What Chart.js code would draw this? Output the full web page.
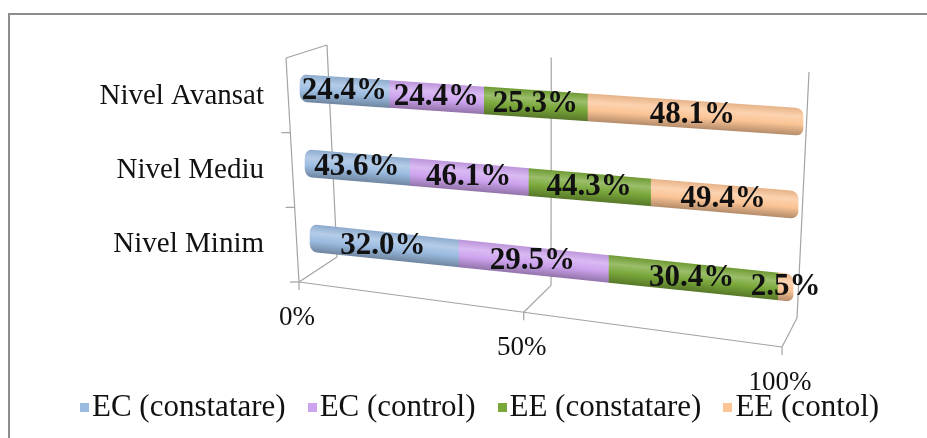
<!DOCTYPE html>
<html>
<head>
<meta charset="utf-8">
<script src="https://cdn.jsdelivr.net/npm/chart.js@4.4.1/dist/chart.umd.min.js"></script>
<style>
  html, body { margin: 0; padding: 0; background: #fff; width: 927px; height: 438px; overflow: hidden; }
  #frame { position: absolute; left: 8px; top: 13px; width: 960px; height: 460px; border-top: 2px solid #8c8c8c; border-left: 2px solid #8c8c8c; }
  #chart { position: absolute; left: 0; top: 0; }
  #legend { position: absolute; left: 80px; top: 391px; display: flex; gap: 22px; align-items: center;
            font: 31px "Liberation Serif", "Times New Roman", serif; line-height: 30px; color: #111; }
  #legend .item { display: flex; align-items: center; white-space: nowrap; }
  #legend .box { width: 9px; height: 9px; margin-right: 3px; margin-top: 3px; }
</style>
</head>
<body>
<div id="frame"></div>
<canvas id="chart" width="927" height="438"></canvas>
<div id="legend"></div>
<script>
const categories = ['Nivel Avansat', 'Nivel Mediu', 'Nivel Minim'];
const seriesNames = ['EC (constatare)', 'EC (control)', 'EE (constatare)', 'EE (contol)'];
const ecConstatare = [24.4, 43.6, 32.0];
const ecControl = [24.4, 46.1, 29.5];
const eeConstatare = [25.3, 44.3, 30.4];
const eeControl = [48.1, 49.4, 2.5];
const seriesColors = ['#9bbbe0', '#cda3ee', '#7aa83a', '#fbc495'];
const xTickValues = [0, 50, 100];
const xTickLabels = ['0%', '50%', '100%'];

const seriesValues = [ecConstatare, ecControl, eeConstatare, eeControl];
// 100% stacked: each segment is its share of the row total
const totals = categories.map((_, i) => seriesValues.reduce((s, v) => s + v[i], 0));
const shares = vals => vals.map((v, i) => v / totals[i] * 100);

const barThickness = 27;
const serif = '"Liberation Serif", "Times New Roman", serif';

document.getElementById('legend').innerHTML = seriesNames
  .map((n, i) => `<span class="item"><span class="box" style="background:${seriesColors[i]}"></span>${n}</span>`)
  .join('');

// fake 3D: corner offsets of three planes relative to the flat chart area
const planes = {
  front: { tl: [-14, 6], tr: [-4, 40], bl: [-1, 8], br: [-18, 73] },
  bars:  { tl: [-2.5, -1.5], tr: [5.5, 28.5], bl: [12.5, 1.5], br: [-9.5, 55.5] },
  back:  { tl: [27, -7], tr: [9, 20], bl: [37, -17], br: [-3, 44] }
};
const depthCurve = 0.87;

function project(area, px, py, plane) {
  const u = (px - area.left) / (area.right - area.left);
  const t = (py - area.top) / (area.bottom - area.top);
  const w = u * depthCurve / (1 + (depthCurve - 1) * u);
  const h = area.bottom - area.top;
  const lx = area.left + plane.tl[0] + (plane.bl[0] - plane.tl[0]) * t;
  const ly = area.top + plane.tl[1] + (h + plane.bl[1] - plane.tl[1]) * t;
  const rx = area.right + plane.tr[0] + (plane.br[0] - plane.tr[0]) * t;
  const ry = area.top + plane.tr[1] + (h + plane.br[1] - plane.tr[1]) * t;
  return { x: lx + (rx - lx) * w, y: ly + (ry - ly) * w };
}

function shade(hex, f) {
  const n = parseInt(hex.slice(1), 16);
  const adj = v => Math.round(f >= 0 ? v + (255 - v) * f : v * (1 + f));
  return `rgb(${adj(n >> 16)},${adj((n >> 8) & 255)},${adj(n & 255)})`;
}

function cylinderFill(i) {
  return (c) => {
    const y = c.chart.scales.y;
    const yc = y && c.type === 'data' ? y.getPixelForValue(c.dataIndex) : NaN;
    if (!Number.isFinite(yc)) return seriesColors[i];
    const g = c.chart.ctx.createLinearGradient(0, yc - barThickness / 2, 0, yc + barThickness / 2);
    g.addColorStop(0, shade(seriesColors[i], -0.08));
    g.addColorStop(0.3, shade(seriesColors[i], 0.25));
    g.addColorStop(0.6, seriesColors[i]);
    g.addColorStop(1, shade(seriesColors[i], -0.28));
    return g;
  };
}

function line(ctx, a, b) {
  ctx.beginPath(); ctx.moveTo(a.x, a.y); ctx.lineTo(b.x, b.y); ctx.stroke();
}

const perspective = {
  id: 'perspective',
  beforeDatasetsDraw(chart) {
    const { ctx, chartArea: area, scales: { x } } = chart;
    const L = area.left, T = area.top, B = area.bottom;

    // walls and floor
    ctx.save();
    ctx.strokeStyle = '#a3a3a3';
    ctx.lineWidth = 1.2;
    line(ctx, project(area, L, T, planes.front), project(area, L, B, planes.front));
    line(ctx, project(area, L, T, planes.front), project(area, L, T, planes.back));
    line(ctx, project(area, L, B, planes.front), project(area, area.right, B, planes.front));
    for (let k = 1; k <= categories.length; k++) {
      const p = project(area, L, T + k * (B - T) / categories.length, planes.front);
      line(ctx, p, { x: p.x - 9, y: p.y });
    }
    xTickValues.forEach(v => {
      const px = x.getPixelForValue(v);
      const f = project(area, px, B, planes.front);
      const bb = project(area, px, B, planes.back);
      line(ctx, f, { x: f.x, y: f.y + 8 });
      line(ctx, f, bb);
      line(ctx, bb, project(area, px, T, planes.back));
    });
    ctx.restore();

    // bars, each mapped onto the slanted plane
    chart.data.datasets.forEach((ds, di) => {
      chart.getDatasetMeta(di).data.forEach(bar => {
        const { x: end, y: yc, base } = bar.getProps(['x', 'y', 'base']);
        if (Math.abs(end - base) < 0.01) return;
        const p0 = project(area, base, yc, planes.bars);
        const p1 = project(area, end, yc, planes.bars);
        const a = (p1.x - p0.x) / (end - base);
        const b = (p1.y - p0.y) / (end - base);
        ctx.save();
        ctx.transform(a, b, 0, 1, p0.x - a * base, p0.y - yc - b * base);
        bar.draw(ctx);
        ctx.restore();
      });
    });
    return false;
  },
  afterDraw(chart) {
    const { ctx, chartArea: area, scales: { x } } = chart;
    ctx.save();
    ctx.textAlign = 'center';
    ctx.textBaseline = 'middle';
    ctx.fillStyle = '#111';

    ctx.font = '27px ' + serif;
    xTickValues.forEach((v, i) => {
      const p = project(area, x.getPixelForValue(v), area.bottom, planes.front);
      ctx.fillText(xTickLabels[i], p.x - 2, p.y + 36);
    });

    ctx.font = 'bold 31px ' + serif;
    chart.data.datasets.forEach((ds, di) => {
      chart.getDatasetMeta(di).data.forEach((bar, i) => {
        const { x: end, y: yc, base } = bar.getProps(['x', 'y', 'base']);
        const p = project(area, (base + end) / 2, yc, planes.bars);
        ctx.fillText(ds.rawValues[i].toFixed(1) + '%', p.x, p.y);
      });
    });
    ctx.restore();
  }
};

new Chart(document.getElementById('chart').getContext('2d'), {
  type: 'bar',
  data: {
    labels: categories,
    datasets: seriesValues.map((vals, i) => ({
      label: seriesNames[i],
      data: shares(vals),
      rawValues: vals,
      backgroundColor: cylinderFill(i),
      borderWidth: 0,
      borderSkipped: false,
      borderRadius: i === 0 ? { topLeft: 8, bottomLeft: 8, topRight: 0, bottomRight: 0 }
                  : i === seriesValues.length - 1 ? { topLeft: 0, bottomLeft: 0, topRight: 7, bottomRight: 7 } : 0,
      barThickness: barThickness
    }))
  },
  options: {
    indexAxis: 'y',
    responsive: false,
    animation: false,
    layout: { padding: { left: 0, right: 127, top: 52, bottom: 164 } },
    scales: {
      x: { stacked: true, min: 0, max: 100, display: false },
      y: {
        stacked: true,
        grid: { display: false },
        border: { display: false },
        ticks: { color: '#111', font: { family: serif, size: 29 }, padding: 28, labelOffset: 7 },
        afterFit(scale) { scale.width = 300; }
      }
    },
    plugins: { legend: { display: false }, tooltip: { enabled: false } }
  },
  plugins: [perspective]
});
</script>
</body>
</html>
